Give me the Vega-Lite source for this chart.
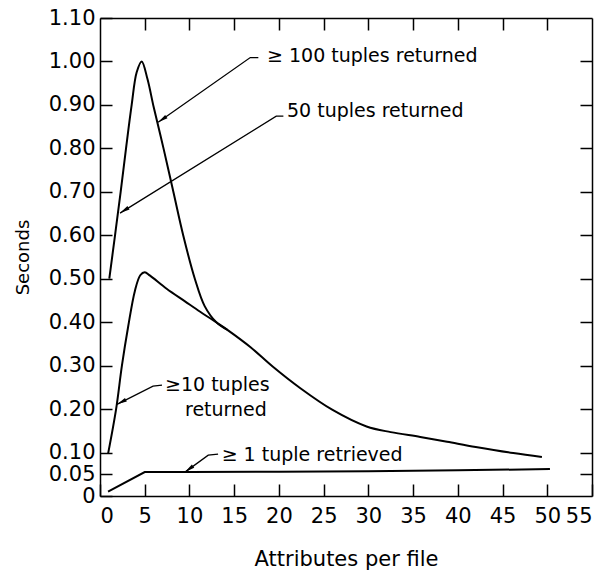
{
  "$schema": "https://vega.github.io/schema/vega-lite/v6.json",
  "width": 492,
  "height": 478,
  "autosize": "none",
  "padding": {"left": 100, "top": 18, "right": 13, "bottom": 74},
  "background": "white",
  "config": {
    "view": {"stroke": null},
    "font": "DejaVu Sans",
    "axis": {
      "grid": false,
      "domainColor": "black",
      "domainWidth": 1.5,
      "tickColor": "black",
      "tickWidth": 1.5,
      "labelColor": "black",
      "labelFont": "DejaVu Sans",
      "labelFontSize": 21,
      "titleColor": "black",
      "titleFont": "DejaVu Sans",
      "titleFontWeight": "normal"
    }
  },
  "datasets": {
    "curves": [
      {"series": "A", "x": 1.04, "y": 0.50},
      {"series": "A", "x": 1.68, "y": 0.60},
      {"series": "A", "x": 2.31, "y": 0.70},
      {"series": "A", "x": 2.91, "y": 0.80},
      {"series": "A", "x": 3.54, "y": 0.90},
      {"series": "A", "x": 4.1, "y": 0.975},
      {"series": "A", "x": 4.66, "y": 1.00},
      {"series": "A", "x": 5.3, "y": 0.96},
      {"series": "A", "x": 6.0, "y": 0.895},
      {"series": "A", "x": 7.1, "y": 0.80},
      {"series": "A", "x": 8.2, "y": 0.70},
      {"series": "A", "x": 9.3, "y": 0.60},
      {"series": "A", "x": 10.6, "y": 0.50},
      {"series": "A", "x": 11.7, "y": 0.437},
      {"series": "A", "x": 13.0, "y": 0.40},
      {"series": "A", "x": 14.2, "y": 0.383},
      {"series": "B", "x": 0.9, "y": 0.097},
      {"series": "B", "x": 1.8, "y": 0.20},
      {"series": "B", "x": 2.45, "y": 0.30},
      {"series": "B", "x": 3.15, "y": 0.39},
      {"series": "B", "x": 3.9, "y": 0.472},
      {"series": "B", "x": 4.5, "y": 0.508},
      {"series": "B", "x": 5.0, "y": 0.515},
      {"series": "B", "x": 5.6, "y": 0.507},
      {"series": "B", "x": 7.45, "y": 0.477},
      {"series": "B", "x": 9.5, "y": 0.448},
      {"series": "B", "x": 11.2, "y": 0.424},
      {"series": "B", "x": 13.2, "y": 0.397},
      {"series": "B", "x": 14.2, "y": 0.383},
      {"series": "B", "x": 16.8, "y": 0.343},
      {"series": "B", "x": 19.3, "y": 0.298},
      {"series": "B", "x": 22.4, "y": 0.248},
      {"series": "B", "x": 26.0, "y": 0.198},
      {"series": "B", "x": 29.8, "y": 0.160},
      {"series": "B", "x": 32.5, "y": 0.147},
      {"series": "B", "x": 35.8, "y": 0.136},
      {"series": "B", "x": 38.8, "y": 0.125},
      {"series": "B", "x": 42.0, "y": 0.113},
      {"series": "B", "x": 46.2, "y": 0.099},
      {"series": "B", "x": 49.4, "y": 0.09}
    ],
    "flat": [
      {"series": "C", "x": 0.9, "y": 0.01},
      {"series": "C", "x": 5.0, "y": 0.055},
      {"series": "C", "x": 10, "y": 0.055},
      {"series": "C", "x": 20, "y": 0.056},
      {"series": "C", "x": 30, "y": 0.057},
      {"series": "C", "x": 40, "y": 0.059},
      {"series": "C", "x": 50.3, "y": 0.062}
    ],
    "leaders": [
      {"arrow": "L1", "order": 1, "x": 17.7, "y": 1.009},
      {"arrow": "L1", "order": 2, "x": 16.8, "y": 1.009},
      {"arrow": "L1", "order": 3, "x": 6.5, "y": 0.86},
      {"arrow": "L2", "order": 1, "x": 20.5, "y": 0.874},
      {"arrow": "L2", "order": 2, "x": 19.7, "y": 0.874},
      {"arrow": "L2", "order": 3, "x": 2.24, "y": 0.651},
      {"arrow": "L3", "order": 1, "x": 6.93, "y": 0.255},
      {"arrow": "L3", "order": 2, "x": 5.93, "y": 0.253},
      {"arrow": "L3", "order": 3, "x": 1.9, "y": 0.211},
      {"arrow": "L4", "order": 1, "x": 13.2, "y": 0.0966},
      {"arrow": "L4", "order": 2, "x": 12.1, "y": 0.094},
      {"arrow": "L4", "order": 3, "x": 9.5, "y": 0.055}
    ],
    "tips": [
      {"arrow": "L1", "x": 6.5, "y": 0.86},
      {"arrow": "L2", "x": 2.24, "y": 0.651},
      {"arrow": "L3", "x": 1.9, "y": 0.211},
      {"arrow": "L4", "x": 9.5, "y": 0.055}
    ],
    "labels": [
      {"text": "≥ 100 tuples returned", "x": 18.67, "y": 1.012},
      {"text": "50 tuples returned", "x": 20.9, "y": 0.887},
      {"text": "≥10 tuples", "x": 7.27, "y": 0.255},
      {"text": "returned", "x": 9.5, "y": 0.198},
      {"text": "≥ 1 tuple retrieved", "x": 13.6, "y": 0.094}
    ]
  },
  "layer": [
    {
      "data": {"name": "curves"},
      "mark": {"type": "line", "interpolate": "catmull-rom", "color": "black", "strokeWidth": 2},
      "encoding": {
        "x": {
          "field": "x", "type": "quantitative",
          "scale": {"domain": [0, 55], "nice": false, "zero": false},
          "axis": {
            "orient": "bottom",
            "values": [0, 5, 10, 15, 20, 25, 30, 35, 40, 45, 50, 55],
            "tickSize": -12,
            "labelPadding": 21,
            "title": "Attributes per file",
            "titleFontSize": 21,
            "titlePadding": 22
          }
        },
        "y": {
          "field": "y", "type": "quantitative",
          "scale": {"domain": [0, 1.1], "nice": false, "zero": false},
          "axis": {
            "orient": "left",
            "values": [0, 0.05, 0.1, 0.2, 0.3, 0.4, 0.5, 0.6, 0.7, 0.8, 0.9, 1.0, 1.1],
            "labelExpr": "datum.value == 0 ? '0' : format(datum.value, '.2f')",
            "tickSize": -12,
            "labelPadding": 17,
            "title": "Seconds",
            "titleFontSize": 18,
            "titlePadding": 16
          }
        },
        "detail": {"field": "series"}
      }
    },
    {
      "data": {"name": "flat"},
      "mark": {"type": "line", "color": "black", "strokeWidth": 2},
      "encoding": {
        "x": {"field": "x", "type": "quantitative", "scale": {"domain": [0, 55], "nice": false, "zero": false},
          "axis": {"orient": "top", "values": [5, 10, 15, 20, 25, 30, 35, 40, 45, 50], "tickSize": -12, "labels": false, "title": null}},
        "y": {"field": "y", "type": "quantitative", "scale": {"domain": [0, 1.1], "nice": false, "zero": false},
          "axis": {"orient": "right", "values": [0.05, 0.1, 0.2, 0.3, 0.4, 0.5, 0.6, 0.7, 0.8, 0.9, 1.0], "tickSize": -12, "labels": false, "title": null}}
      }
    },
    {
      "data": {"name": "leaders"},
      "mark": {"type": "line", "color": "black", "strokeWidth": 1.3},
      "encoding": {
        "x": {"field": "x", "type": "quantitative", "scale": {"domain": [0, 55], "nice": false, "zero": false}, "axis": null},
        "y": {"field": "y", "type": "quantitative", "scale": {"domain": [0, 1.1], "nice": false, "zero": false}, "axis": null},
        "detail": {"field": "arrow"},
        "order": {"field": "order"}
      }
    },
    {
      "data": {"name": "tips"},
      "transform": [{"filter": "datum.arrow == 'L1'"}],
      "mark": {"type": "point", "shape": "M0,0L0.4,2L-0.4,2Z", "filled": true, "color": "black", "opacity": 1, "size": 100, "angle": 235},
      "encoding": {
        "x": {"field": "x", "type": "quantitative", "scale": {"domain": [0, 55], "nice": false, "zero": false}, "axis": null},
        "y": {"field": "y", "type": "quantitative", "scale": {"domain": [0, 1.1], "nice": false, "zero": false}, "axis": null}
      }
    },
    {
      "data": {"name": "tips"},
      "transform": [{"filter": "datum.arrow == 'L2'"}],
      "mark": {"type": "point", "shape": "M0,0L0.4,2L-0.4,2Z", "filled": true, "color": "black", "opacity": 1, "size": 100, "angle": 238},
      "encoding": {
        "x": {"field": "x", "type": "quantitative", "scale": {"domain": [0, 55], "nice": false, "zero": false}, "axis": null},
        "y": {"field": "y", "type": "quantitative", "scale": {"domain": [0, 1.1], "nice": false, "zero": false}, "axis": null}
      }
    },
    {
      "data": {"name": "tips"},
      "transform": [{"filter": "datum.arrow == 'L3'"}],
      "mark": {"type": "point", "shape": "M0,0L0.4,2L-0.4,2Z", "filled": true, "color": "black", "opacity": 1, "size": 100, "angle": 243},
      "encoding": {
        "x": {"field": "x", "type": "quantitative", "scale": {"domain": [0, 55], "nice": false, "zero": false}, "axis": null},
        "y": {"field": "y", "type": "quantitative", "scale": {"domain": [0, 1.1], "nice": false, "zero": false}, "axis": null}
      }
    },
    {
      "data": {"name": "tips"},
      "transform": [{"filter": "datum.arrow == 'L4'"}],
      "mark": {"type": "point", "shape": "M0,0L0.4,2L-0.4,2Z", "filled": true, "color": "black", "opacity": 1, "size": 100, "angle": 234},
      "encoding": {
        "x": {"field": "x", "type": "quantitative", "scale": {"domain": [0, 55], "nice": false, "zero": false}, "axis": null},
        "y": {"field": "y", "type": "quantitative", "scale": {"domain": [0, 1.1], "nice": false, "zero": false}, "axis": null}
      }
    },
    {
      "data": {"name": "labels"},
      "mark": {"type": "text", "align": "left", "baseline": "middle", "fontSize": 19, "font": "DejaVu Sans", "color": "black"},
      "encoding": {
        "x": {"field": "x", "type": "quantitative", "scale": {"domain": [0, 55], "nice": false, "zero": false}, "axis": null},
        "y": {"field": "y", "type": "quantitative", "scale": {"domain": [0, 1.1], "nice": false, "zero": false}, "axis": null},
        "text": {"field": "text"}
      }
    }
  ],
  "resolve": {"axis": {"x": "independent", "y": "independent"}}
}
